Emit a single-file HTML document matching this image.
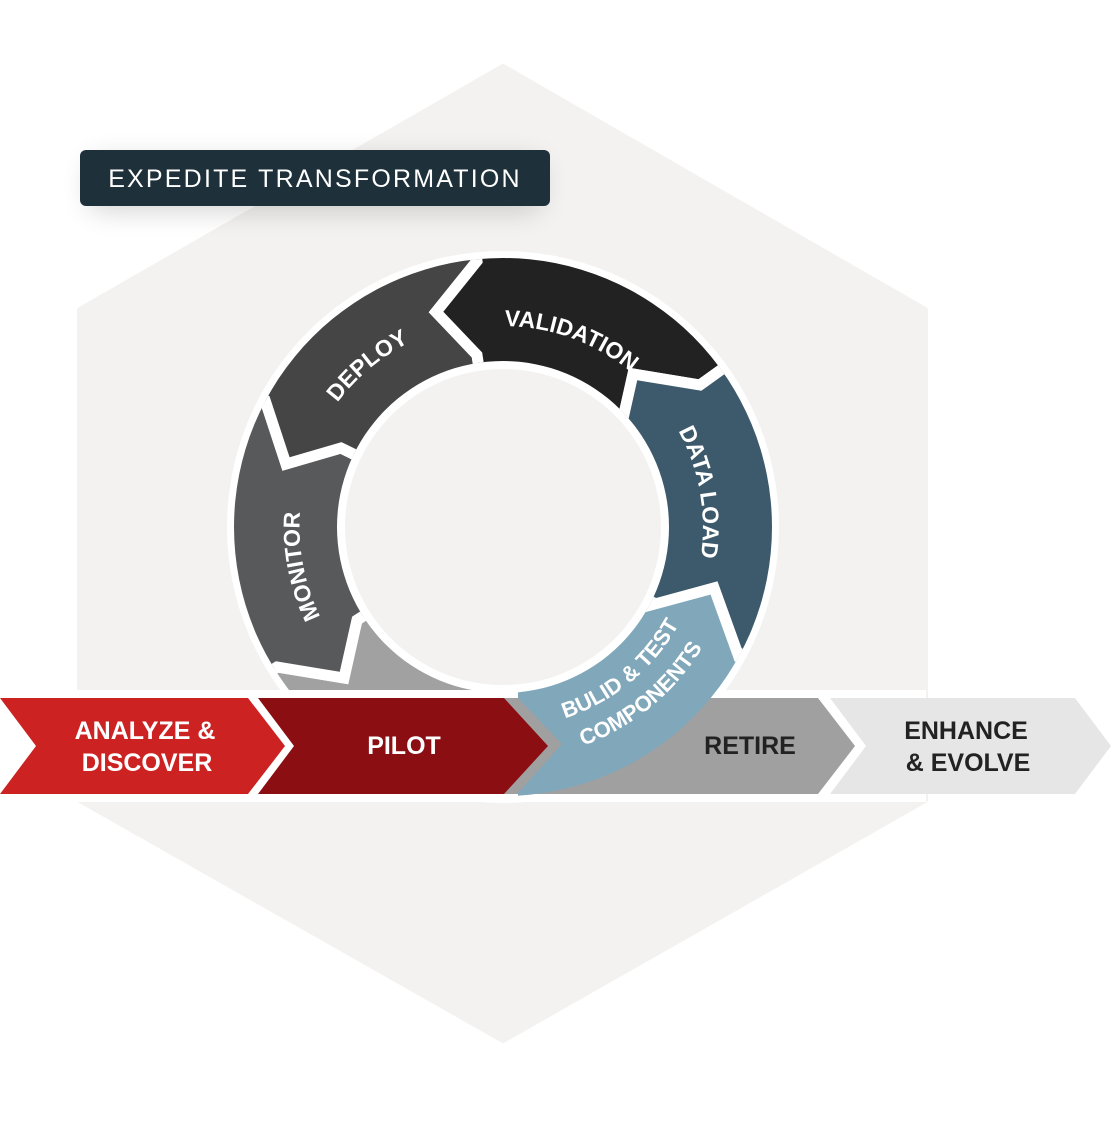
<!DOCTYPE html>
<html><head><meta charset="utf-8"><style>
html,body{margin:0;padding:0;background:#fff;}
svg{display:block;}
text{font-family:"Liberation Sans",sans-serif;}
</style></head><body>
<svg width="1112" height="1122" viewBox="0 0 1112 1122" xmlns="http://www.w3.org/2000/svg">
<defs>
<clipPath id="ann"><path clip-rule="evenodd" d="M234,527 A269,269 0 1 0 772,527 A269,269 0 1 0 234,527 Z M337,527 A166,166 0 1 1 669,527 A166,166 0 1 1 337,527 Z"/></clipPath>
<filter id="sh" x="-30%" y="-100%" width="160%" height="300%"><feGaussianBlur stdDeviation="14"/></filter>
<path id="pV" d="M314.1,458.3 A201,201 0 0 1 691.9,595.7"/>
<path id="pD" d="M344.4,660.1 A207,207 0 0 1 661.6,393.9"/>
<path id="pL" d="M467.8,327.1 A203,203 0 0 1 538.2,726.9"/>
<path id="pM" d="M542.3,729.2 A206,206 0 0 1 463.7,324.8"/>
<path id="pB" d="M347.9,654.9 A201,201 0 0 0 658.1,399.1"/>
<path id="pC" d="M323.2,675.2 A233,233 0 0 0 682.8,378.8"/>
</defs>
<polygon points="503,67 925,310 925,800 503,1040 80,800 80,310" fill="#f3f2f0" stroke="#f3f2f0" stroke-width="6" stroke-linejoin="round"/>
<rect x="90" y="160" width="450" height="50" rx="8" fill="#000" opacity="0.18" filter="url(#sh)"/>
<rect x="80" y="150" width="470" height="56" rx="6" fill="#1e313a"/>
<text x="315" y="187" fill="#fff" font-size="25" letter-spacing="2.2" text-anchor="middle">EXPEDITE TRANSFORMATION</text>

<circle cx="503" cy="527" r="276" fill="#fff"/>
<circle cx="503" cy="527" r="158" fill="#f3f2f0"/>
<g clip-path="url(#ann)" stroke="#fff" stroke-width="11" stroke-linejoin="miter">
<polygon fill="#a1a1a1" points="503,527 357,620 344,678 277,667 187,723 300,900 518,900 518,600"/>
<polygon fill="#58595b" points="503,527 357,620 344,678 277,667 187,723 150,527 170,349 265,400 286,464 341,448"/>
<polygon fill="#454545" points="503,527 341,448 286,464 265,400 170,349 300,180 464,128 477,261 436,312 477,355"/>
<polygon fill="#222222" points="503,527 477,355 436,312 477,261 464,128 700,150 818,300 700,385 633,374 620,432"/>
<polygon fill="#3d5a6c" points="503,527 620,432 633,374 700,385 818,300 860,527 831,702 737,652 714,588 656,604"/>
</g>

<rect x="0" y="690" width="926" height="112" fill="#fff"/>
<polygon fill="#a0a0a0" points="470,698 818,698 855,746 818,794 470,794"/>
<polygon fill="#e6e6e6" points="830,698 1075,698 1111,746 1075,794 830,794 866,746"/>
<polygon fill="#cc2222" points="0,698 248,698 285,746 248,794 0,794 36,746"/>
<polygon fill="#8b0e12" points="258,698 504,698 548,746 504,794 258,794 294,746"/>

<g clip-path="url(#ann)">
<polygon fill="#80a7ba" points="503,527 656,604 714,588 737,652 831,702 760,880 518,880 518,793 562,744 518,698 518,600"/>
</g>
<g clip-path="url(#ann)">
<polyline points="640,608 714,588 740,660" fill="none" stroke="#fff" stroke-width="11" stroke-linejoin="miter"/>
</g>

<g fill="#fff" font-size="23" font-weight="bold">
<text><textPath href="#pV" startOffset="50%" text-anchor="middle">VALIDATION</textPath></text>
<text><textPath href="#pD" startOffset="50%" text-anchor="middle">DEPLOY</textPath></text>
<text><textPath href="#pL" startOffset="50%" text-anchor="middle">DATA LOAD</textPath></text>
<text><textPath href="#pM" startOffset="50%" text-anchor="middle">MONITOR</textPath></text>
</g>
<g fill="#fff" font-size="22" font-weight="bold">
<text><textPath href="#pB" startOffset="50%" text-anchor="middle">BULID &amp; TEST</textPath></text>
<text><textPath href="#pC" startOffset="50%" text-anchor="middle">COMPONENTS</textPath></text>
</g>

<g font-size="25" font-weight="bold" text-anchor="middle">
<text x="145" y="739" fill="#fff">ANALYZE &amp;</text>
<text x="147" y="771" fill="#fff">DISCOVER</text>
<text x="404" y="754" fill="#fff">PILOT</text>
<text x="750" y="754" fill="#222">RETIRE</text>
<text x="966" y="739" fill="#222">ENHANCE</text>
<text x="968" y="771" fill="#222">&amp; EVOLVE</text>
</g>
</svg>
</body></html>
